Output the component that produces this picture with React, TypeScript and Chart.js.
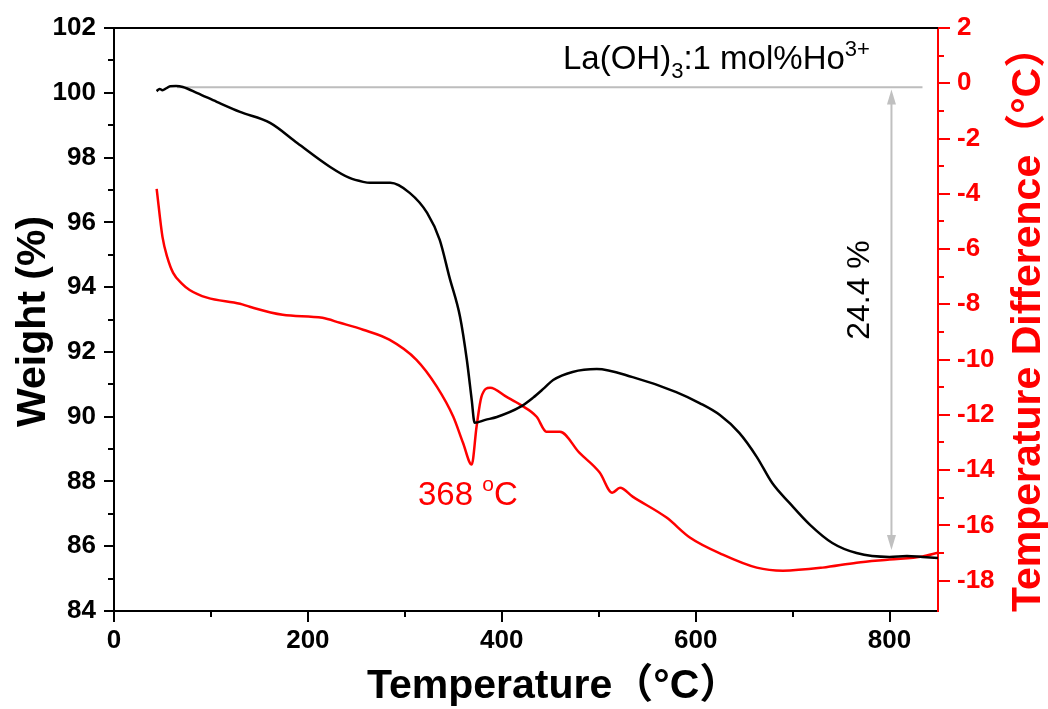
import React, { useEffect, useRef } from 'react';
import { Chart, registerables } from 'chart.js';

Chart.register(...registerables);

// ---- Data ----
const weightTemp = [44, 47, 50, 54, 58, 64, 71, 86, 106, 130, 161, 189, 223, 243, 257, 264, 285, 305, 323, 336, 346, 357, 364, 369, 372, 383, 395, 419, 432, 444, 453, 473, 498, 535, 580, 604, 625, 645, 663, 679, 697, 718, 741, 766, 800, 818, 834, 850];
const weightPct = [100.05, 100.12, 100.08, 100.14, 100.2, 100.21, 100.18, 99.99, 99.72, 99.41, 99.07, 98.45, 97.71, 97.37, 97.25, 97.22, 97.22, 96.91, 96.29, 95.46, 94.31, 93.08, 91.75, 90.52, 89.81, 89.9, 89.99, 90.3, 90.58, 90.89, 91.13, 91.38, 91.47, 91.22, 90.76, 90.42, 90.05, 89.5, 88.76, 87.95, 87.33, 86.66, 86.1, 85.79, 85.67, 85.7, 85.67, 85.64];

const dtaTemp = [44, 50, 55, 61, 70, 78, 96, 130, 140, 174, 215, 233, 257, 284, 312, 333, 350, 360, 369, 374, 379, 388, 405, 419, 436, 446, 460, 480, 501, 514, 522, 535, 570, 594, 628, 663, 690, 731, 766, 800, 834, 850];
const dtaDiff = [-3.82, -5.56, -6.3, -6.86, -7.25, -7.48, -7.76, -7.98, -8.09, -8.38, -8.49, -8.67, -8.92, -9.28, -10.01, -10.98, -12.07, -13.01, -13.8, -12.43, -11.35, -11.02, -11.35, -11.63, -12.07, -12.61, -12.61, -13.37, -14.09, -14.82, -14.64, -14.96, -15.72, -16.44, -17.06, -17.53, -17.64, -17.53, -17.35, -17.24, -17.13, -16.99];

const refLineTemp = [65, 834];
const refLineLevel = [100.17, 100.17];
const arrowTemp = 802;
const arrowFromTo = [100.1, 85.88];

const xTickValues = [0, 200, 400, 600, 800];
const weightTickValues = [84, 86, 88, 90, 92, 94, 96, 98, 100, 102];
const dtaTickValues = [-18, -16, -14, -12, -10, -8, -6, -4, -2, 0, 2];

const xTitle = 'Temperature（°C）';
const yTitle = 'Weight (%)';
const y1Title = 'Temperature Difference（°C）';
const lossLabel = '24.4 %';
const peakLabel = '368 ';

const FONT = '"Liberation Sans", Arial, "Noto Sans CJK SC", sans-serif';

const overlay = {
  id: 'overlay',
  afterDatasetsDraw(chart: any) {
    const { ctx } = chart;
    const sx = chart.scales.x;
    const sy = chart.scales.y;
    const ax = sx.getPixelForValue(arrowTemp);
    const yTop = sy.getPixelForValue(arrowFromTo[0]);
    const yBot = sy.getPixelForValue(arrowFromTo[1]);
    ctx.save();
    ctx.strokeStyle = '#c0c0c0';
    ctx.fillStyle = '#c0c0c0';
    ctx.lineWidth = 2;
    ctx.beginPath();
    ctx.moveTo(ax, yTop + 10);
    ctx.lineTo(ax, yBot - 10);
    ctx.stroke();
    ctx.beginPath();
    ctx.moveTo(ax, yTop);
    ctx.lineTo(ax - 4.5, yTop + 15);
    ctx.lineTo(ax + 4.5, yTop + 15);
    ctx.closePath();
    ctx.fill();
    ctx.beginPath();
    ctx.moveTo(ax, yBot);
    ctx.lineTo(ax - 4.5, yBot - 15);
    ctx.lineTo(ax + 4.5, yBot - 15);
    ctx.closePath();
    ctx.fill();
    ctx.restore();
  },
  afterDraw(chart: any) {
    const { ctx, chartArea: a } = chart;
    const sx = chart.scales.x;
    const sy = chart.scales.y;
    const sr = chart.scales.y1;
    const seg = (x1: number, y1: number, x2: number, y2: number) => {
      ctx.beginPath();
      ctx.moveTo(x1, y1);
      ctx.lineTo(x2, y2);
      ctx.stroke();
    };
    ctx.save();
    ctx.lineCap = 'butt';
    ctx.lineWidth = 2;
    ctx.strokeStyle = '#000';
    seg(a.left - 1, a.top, a.right, a.top);
    // x ticks
    for (let v = 0; v <= 850; v += 100) {
      const px = Math.round(sx.getPixelForValue(v));
      seg(px, a.bottom, px, a.bottom + (v % 200 === 0 ? 11 : 6));
    }
    // left ticks
    for (let v = 84; v <= 102; v += 1) {
      const py = Math.round(sy.getPixelForValue(v));
      seg(a.left, py, a.left - (v % 2 === 0 ? 10 : 6), py);
    }
    // right ticks
    ctx.strokeStyle = '#ff0000';
    for (let v = -18; v <= 2; v += 1) {
      const py = Math.round(sr.getPixelForValue(v));
      seg(a.right, py, a.right + (v % 2 === 0 ? 12 : 6), py);
    }

    // titles
    ctx.fillStyle = '#000';
    ctx.font = `bold 41px ${FONT}`;
    ctx.textBaseline = 'alphabetic';
    ctx.textAlign = 'left';
    ctx.fillText(xTitle, 367, 698);

    ctx.save();
    ctx.translate(45, 427);
    ctx.rotate(-Math.PI / 2);
    ctx.fillText(yTitle, 0, 0);
    ctx.restore();

    ctx.save();
    ctx.fillStyle = '#ff0000';
    ctx.translate(1040, 612);
    ctx.rotate(-Math.PI / 2);
    ctx.fillText(y1Title, 0, 0);
    ctx.restore();

    // sample label La(OH)3:1 mol%Ho3+
    ctx.fillStyle = '#000';
    let tx = 563;
    const base = 69;
    ctx.font = `33px ${FONT}`;
    ctx.fillText('La(OH)', tx, base);
    tx += ctx.measureText('La(OH)').width;
    ctx.font = `22px ${FONT}`;
    ctx.fillText('3', tx, base + 9);
    tx += ctx.measureText('3').width;
    ctx.font = `33px ${FONT}`;
    ctx.fillText(':1 mol%Ho', tx, base);
    tx += ctx.measureText(':1 mol%Ho').width;
    ctx.font = `22px ${FONT}`;
    ctx.fillText('3+', tx, base - 13);

    // 24.4 %
    ctx.save();
    ctx.font = `32px ${FONT}`;
    ctx.textAlign = 'center';
    ctx.translate(869, 290);
    ctx.rotate(-Math.PI / 2);
    ctx.fillText(lossLabel, 0, 0);
    ctx.restore();

    // 368 oC
    ctx.fillStyle = '#ff0000';
    let px = 418;
    const pb = 505;
    ctx.font = `33px ${FONT}`;
    ctx.fillText(peakLabel, px, pb);
    px += ctx.measureText(peakLabel).width;
    ctx.font = `21px ${FONT}`;
    ctx.fillText('o', px, pb - 14);
    px += ctx.measureText('o').width;
    ctx.font = `33px ${FONT}`;
    ctx.fillText('C', px, pb);

    ctx.restore();
  },
};

export default function App() {
  const ref = useRef<HTMLCanvasElement>(null);
  useEffect(() => {
    const tickFont = { family: FONT, size: 26, weight: 'bold' as const };
    const fitY = (s: any) => {
      s.width = s.position === 'left' ? 114 : 110;
      s.paddingTop = 0;
      s.paddingBottom = 0;
    };
    const chart = new Chart(ref.current as HTMLCanvasElement, {
      type: 'line',
      data: {
        datasets: [
          {
            label: 'Weight',
            data: weightTemp.map((t, i) => ({ x: t, y: weightPct[i] })),
            borderColor: '#000000',
            borderWidth: 2.5,
            pointRadius: 0,
            cubicInterpolationMode: 'monotone',
            yAxisID: 'y',
          },
          {
            label: 'DTA',
            data: dtaTemp.map((t, i) => ({ x: t, y: dtaDiff[i] })),
            borderColor: '#ff0000',
            borderWidth: 2.5,
            pointRadius: 0,
            cubicInterpolationMode: 'monotone',
            yAxisID: 'y1',
          },
          {
            label: 'ref',
            data: refLineTemp.map((t, i) => ({ x: t, y: refLineLevel[i] })),
            borderColor: '#bdbdbd',
            borderWidth: 2,
            pointRadius: 0,
            yAxisID: 'y',
          },
        ],
      },
      options: {
        responsive: false,
        animation: false,
        layout: { padding: { top: 28, left: 0, right: 0, bottom: 0 } },
        plugins: { legend: { display: false }, tooltip: { enabled: false } },
        scales: {
          x: {
            type: 'linear',
            position: 'bottom',
            min: 0,
            max: 850,
            afterFit: (s: any) => { s.height = 98; s.paddingLeft = 0; s.paddingRight = 0; },
            afterBuildTicks: (s: any) => { s.ticks = xTickValues.map((v) => ({ value: v })); },
            grid: { display: false, drawTicks: false },
            border: { display: true, color: '#000', width: 2 },
            ticks: { color: '#000', font: tickFont, padding: 14, maxRotation: 0, autoSkip: false },
          },
          y: {
            type: 'linear',
            position: 'left',
            min: 84,
            max: 102,
            afterFit: fitY,
            afterBuildTicks: (s: any) => { s.ticks = weightTickValues.map((v) => ({ value: v })); },
            grid: { display: false, drawTicks: false },
            border: { display: true, color: '#000', width: 2 },
            ticks: { color: '#000', font: tickFont, padding: 18, autoSkip: false },
          },
          y1: {
            type: 'linear',
            position: 'right',
            min: -19.1,
            max: 2,
            afterFit: fitY,
            afterBuildTicks: (s: any) => { s.ticks = dtaTickValues.map((v) => ({ value: v })); },
            grid: { display: false, drawTicks: false },
            border: { display: true, color: '#ff0000', width: 2 },
            ticks: { color: '#ff0000', font: tickFont, padding: 19, autoSkip: false },
          },
        },
      },
      plugins: [overlay],
    } as any);
    return () => chart.destroy();
  }, []);
  return (
    <div style={{ position: 'fixed', left: 0, top: 0, width: 1048, height: 709, background: '#fff' }}>
      <canvas ref={ref} width={1048} height={709} style={{ display: 'block' }} />
    </div>
  );
}
